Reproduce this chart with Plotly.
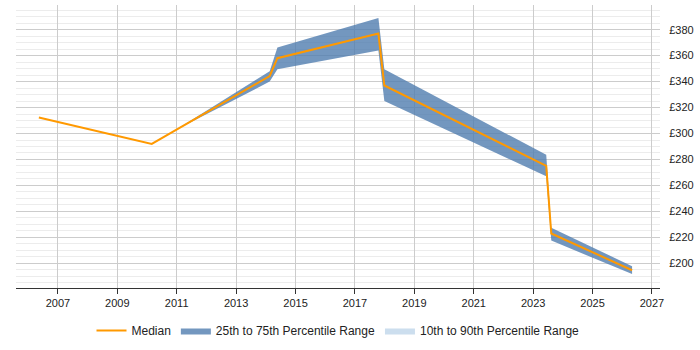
import plotly.graph_objects as go

# Median series
median_years = [2006.36, 2010.16, 2014.13, 2014.39, 2017.79, 2017.99, 2023.44, 2023.61, 2026.33]
median_values = [312.4, 292, 344.3, 358, 377, 337, 275, 223, 194.7]

# 25th-75th percentile band
band_years = [2011.03, 2014.13, 2014.39, 2017.79, 2017.99, 2023.44, 2023.61, 2026.33]
band_lower = [303.4, 340, 349.6, 364, 325, 267, 217.5, 191.7]
band_upper = [303.6, 348, 366.3, 389, 349.6, 283.6, 227.4, 197.8]

x_ticks = list(range(2007, 2028, 2))
y_ticks = list(range(200, 381, 20))
y_tick_labels = ["£" + str(v) for v in y_ticks]

band_color = "rgba(80,125,175,0.8)"
light_color = "rgba(204,222,238,1)"
median_color = "#ff9900"

fig = go.Figure()

fig.add_trace(go.Scatter(
    x=band_years, y=band_lower, mode="lines", line=dict(width=0, color=band_color),
    showlegend=False, hoverinfo="skip"))
fig.add_trace(go.Scatter(
    x=band_years, y=band_upper, mode="lines", line=dict(width=0, color=band_color),
    fill="tonexty", fillcolor=band_color, name="25th to 75th Percentile Range",
    legendrank=2))
fig.add_trace(go.Scatter(
    x=[None], y=[None], mode="lines", line=dict(width=0, color=light_color),
    fill="toself", fillcolor=light_color, name="10th to 90th Percentile Range",
    legendrank=3))
fig.add_trace(go.Scatter(
    x=median_years, y=median_values, mode="lines",
    line=dict(color=median_color, width=2), name="Median", legendrank=1))

fig.update_layout(
    width=700, height=350,
    margin=dict(l=16, r=40, t=5, b=58),
    plot_bgcolor="white", paper_bgcolor="white",
    font=dict(family="Liberation Sans, Arial, sans-serif", size=11, color="#222"),
    legend=dict(orientation="h", x=0.5, xanchor="center", y=-0.15, yanchor="middle",
                font=dict(size=12, color="#222"), traceorder="normal"),
    xaxis=dict(range=[2005.59, 2027.27], tickvals=x_ticks, showgrid=True,
               gridcolor="#cccccc", gridwidth=1, zeroline=False,
               showline=True, linecolor="#333", linewidth=1,
               ticks="outside", ticklen=5, tickcolor="#333"),
    yaxis=dict(range=[181, 399], tickmode="array", tickvals=y_ticks, ticktext=y_tick_labels,
               side="right", showgrid=True, gridcolor="#cccccc", gridwidth=1, zeroline=False,
               showline=False, ticks="outside", ticklen=6, tickcolor="rgba(0,0,0,0)",
               minor=dict(dtick=5, showgrid=True, gridcolor="#ececec", gridwidth=1)),
)

fig.write_html("out.html")
